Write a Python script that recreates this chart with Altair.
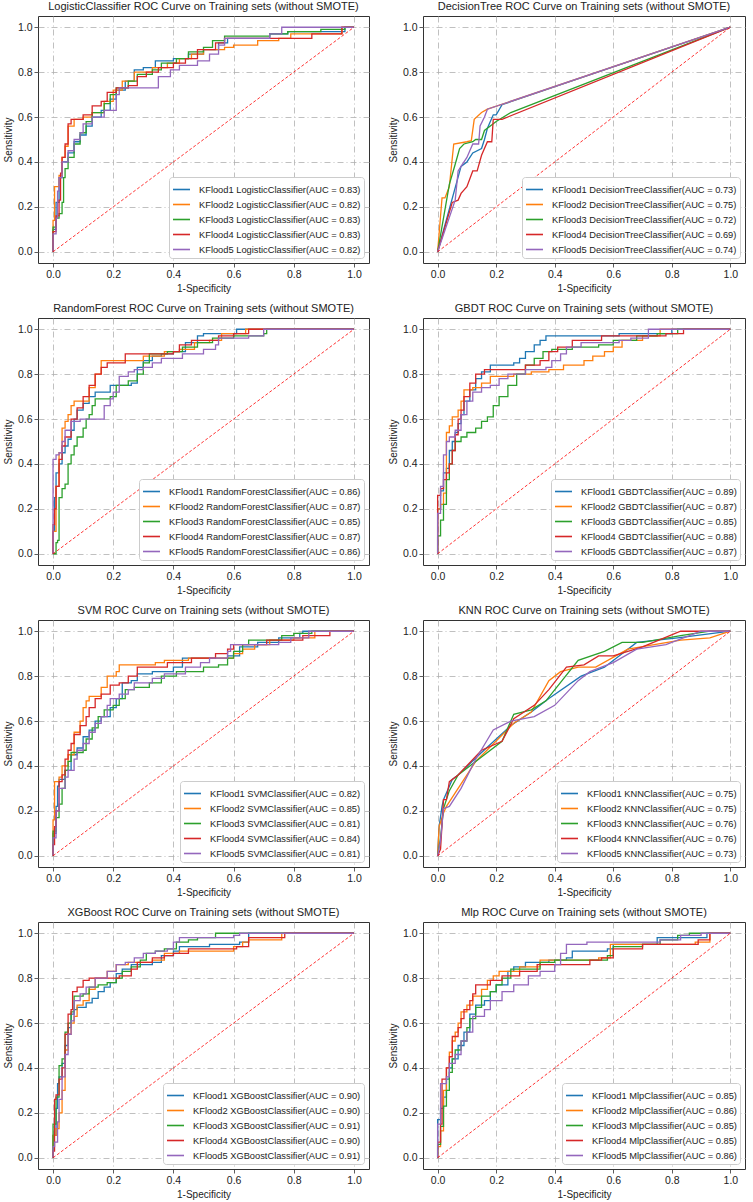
import altair as alt
import pandas as pd

FONT = "Liberation Sans"
COLORS = ["#1f77b4", "#ff7f0e", "#2ca02c", "#d62728", "#9467bd"]
TICKS = [0.0, 0.2, 0.4, 0.6, 0.8, 1.0]

# ---- Logistic ----
LR_AUC = [0.83, 0.82, 0.83, 0.83, 0.82]
LR_CURVES = [
    [(0,0),(0,0.10),(0.01,0.22),(0.02,0.33),(0.03,0.40),(0.05,0.44),(0.07,0.49),(0.09,0.52),(0.11,0.56),(0.13,0.60),(0.16,0.63),(0.19,0.68),(0.21,0.72),(0.24,0.76),(0.27,0.81),(0.30,0.82),(0.34,0.85),(0.40,0.86),(0.45,0.88),(0.50,0.90),(0.55,0.93),(0.58,0.95),(0.72,0.97),(0.78,0.98),(0.97,1.0),(1,1)],
    [(0,0),(0,0.14),(0.005,0.29),(0.02,0.34),(0.03,0.42),(0.04,0.47),(0.05,0.56),(0.07,0.59),(0.10,0.60),(0.13,0.62),(0.17,0.67),(0.20,0.72),(0.23,0.76),(0.27,0.80),(0.33,0.82),(0.38,0.84),(0.42,0.86),(0.46,0.88),(0.50,0.90),(0.57,0.91),(0.60,0.92),(0.68,0.94),(0.75,0.95),(0.79,0.97),(0.96,1.0),(1,1)],
    [(0,0),(0,0.11),(0.01,0.15),(0.02,0.17),(0.03,0.22),(0.035,0.33),(0.04,0.37),(0.05,0.42),(0.07,0.48),(0.09,0.53),(0.11,0.58),(0.13,0.62),(0.17,0.66),(0.19,0.70),(0.21,0.73),(0.25,0.76),(0.28,0.79),(0.33,0.81),(0.36,0.84),(0.41,0.86),(0.45,0.89),(0.50,0.91),(0.53,0.94),(0.57,0.96),(0.72,0.97),(0.78,0.98),(0.89,0.99),(0.97,1.0),(1,1)],
    [(0,0),(0,0.09),(0.01,0.16),(0.02,0.23),(0.025,0.35),(0.03,0.42),(0.04,0.48),(0.05,0.57),(0.06,0.59),(0.10,0.61),(0.13,0.65),(0.16,0.67),(0.18,0.71),(0.21,0.73),(0.25,0.74),(0.28,0.78),(0.31,0.80),(0.35,0.82),(0.40,0.84),(0.44,0.86),(0.48,0.90),(0.54,0.93),(0.57,0.95),(0.86,0.97),(0.96,1.0),(1,1)],
    [(0,0),(0,0.08),(0.01,0.15),(0.015,0.27),(0.02,0.33),(0.03,0.40),(0.05,0.45),(0.07,0.50),(0.09,0.53),(0.10,0.57),(0.13,0.60),(0.17,0.63),(0.21,0.70),(0.22,0.73),(0.35,0.78),(0.39,0.81),(0.42,0.83),(0.48,0.85),(0.52,0.88),(0.55,0.92),(0.57,0.95),(0.72,0.97),(0.76,1.0),(1,1)],
]

# ---- Decision tree ----
DT_AUC = [0.73, 0.75, 0.72, 0.69, 0.74]
DT_CURVES = [
    [(0,0),(0.08,0.38),(0.10,0.40),(0.12,0.44),(0.15,0.46),(0.16,0.50),(0.17,0.55),(0.19,0.61),(0.20,0.61),(0.22,0.655),(1,1)],
    [(0,0),(0.015,0.24),(0.025,0.24),(0.04,0.29),(0.055,0.48),(0.10,0.49),(0.115,0.495),(0.125,0.59),(0.15,0.62),(0.17,0.635),(1,1)],
    [(0,0),(0.04,0.30),(0.06,0.39),(0.075,0.46),(0.09,0.48),(0.12,0.49),(0.13,0.50),(0.15,0.50),(0.16,0.54),(0.20,0.58),(0.25,0.62),(1,1)],
    [(0,0),(0.05,0.22),(0.07,0.23),(0.08,0.26),(0.10,0.29),(0.12,0.36),(0.135,0.36),(0.15,0.43),(0.17,0.49),(0.185,0.49),(0.19,0.59),(0.22,0.59),(1,1)],
    [(0,0),(0.06,0.23),(0.07,0.36),(0.08,0.38),(0.10,0.42),(0.12,0.48),(0.14,0.48),(0.145,0.56),(0.16,0.60),(0.17,0.635),(1,1)],
]

# ---- Random forest ----
RF_AUC = [0.86, 0.87, 0.85, 0.87, 0.86]
RF_CURVES = [
    [(0,0),(0,0.10),(0.005,0.25),(0.01,0.36),(0.02,0.40),(0.03,0.45),(0.04,0.48),(0.05,0.51),(0.06,0.55),(0.07,0.60),(0.08,0.64),(0.10,0.67),(0.12,0.70),(0.14,0.72),(0.19,0.75),(0.26,0.76),(0.28,0.83),(0.30,0.86),(0.33,0.88),(0.36,0.89),(0.40,0.90),(0.44,0.94),(0.48,0.97),(0.50,0.98),(0.61,1.0),(1,1)],
    [(0,0),(0,0.10),(0.01,0.30),(0.02,0.45),(0.03,0.56),(0.04,0.59),(0.05,0.62),(0.06,0.66),(0.07,0.68),(0.12,0.74),(0.14,0.80),(0.16,0.86),(0.30,0.88),(0.37,0.90),(0.42,0.91),(0.47,0.94),(0.52,0.95),(0.56,0.98),(0.64,1.0),(1,1)],
    [(0,0),(0.01,0.05),(0.015,0.06),(0.02,0.25),(0.03,0.29),(0.04,0.31),(0.05,0.40),(0.06,0.44),(0.07,0.48),(0.08,0.52),(0.10,0.56),(0.11,0.60),(0.12,0.62),(0.13,0.66),(0.14,0.69),(0.19,0.70),(0.21,0.75),(0.25,0.77),(0.28,0.80),(0.30,0.85),(0.32,0.89),(0.38,0.90),(0.43,0.92),(0.48,0.94),(0.53,0.96),(0.60,0.97),(0.70,0.98),(0.71,1.0),(1,1)],
    [(0,0),(0,0.13),(0.005,0.20),(0.01,0.30),(0.02,0.42),(0.03,0.48),(0.04,0.52),(0.06,0.60),(0.08,0.65),(0.10,0.70),(0.12,0.75),(0.14,0.80),(0.16,0.83),(0.18,0.85),(0.24,0.89),(0.40,0.90),(0.42,0.93),(0.46,0.95),(0.55,0.97),(0.60,0.98),(0.65,1.0),(1,1)],
    [(0,0),(0,0.42),(0.01,0.44),(0.02,0.45),(0.03,0.50),(0.04,0.55),(0.06,0.59),(0.09,0.60),(0.17,0.66),(0.19,0.69),(0.20,0.72),(0.22,0.79),(0.25,0.81),(0.27,0.82),(0.30,0.83),(0.33,0.85),(0.36,0.87),(0.43,0.89),(0.50,0.91),(0.54,0.93),(0.55,0.96),(0.65,0.97),(0.70,1.0),(1,1)],
]

# ---- GBDT ----
GB_AUC = [0.89, 0.87, 0.85, 0.88, 0.87]
GB_CURVES = [
    [(0,0),(0,0.20),(0.01,0.28),(0.02,0.36),(0.03,0.38),(0.04,0.46),(0.05,0.50),(0.06,0.54),(0.07,0.58),(0.08,0.62),(0.09,0.68),(0.11,0.73),(0.13,0.78),(0.15,0.81),(0.18,0.84),(0.26,0.85),(0.28,0.87),(0.30,0.90),(0.33,0.93),(0.35,0.95),(0.37,0.97),(0.62,0.98),(0.80,1.0),(1,1)],
    [(0,0),(0,0.20),(0.01,0.22),(0.02,0.27),(0.03,0.54),(0.04,0.57),(0.05,0.61),(0.07,0.64),(0.08,0.68),(0.09,0.73),(0.12,0.74),(0.15,0.76),(0.18,0.79),(0.26,0.80),(0.32,0.81),(0.38,0.82),(0.43,0.84),(0.50,0.86),(0.53,0.88),(0.57,0.90),(0.60,0.92),(0.63,0.95),(0.70,0.97),(0.76,1.0),(1,1)],
    [(0,0),(0,0.08),(0.01,0.15),(0.02,0.22),(0.03,0.33),(0.04,0.40),(0.05,0.46),(0.06,0.50),(0.08,0.52),(0.10,0.54),(0.13,0.56),(0.15,0.59),(0.17,0.61),(0.19,0.66),(0.21,0.70),(0.24,0.75),(0.27,0.80),(0.30,0.84),(0.33,0.87),(0.36,0.90),(0.39,0.91),(0.46,0.92),(0.55,0.93),(0.60,0.95),(0.68,0.97),(0.75,0.98),(0.82,1.0),(1,1)],
    [(0,0),(0,0.26),(0.01,0.29),(0.02,0.33),(0.03,0.36),(0.04,0.40),(0.05,0.46),(0.06,0.53),(0.07,0.60),(0.08,0.64),(0.09,0.70),(0.11,0.76),(0.13,0.80),(0.16,0.82),(0.30,0.84),(0.35,0.86),(0.38,0.90),(0.41,0.92),(0.46,0.95),(0.56,0.97),(0.78,0.98),(0.84,1.0),(1,1)],
    [(0,0),(0,0.18),(0.01,0.30),(0.02,0.44),(0.03,0.50),(0.04,0.52),(0.06,0.55),(0.08,0.62),(0.10,0.68),(0.12,0.72),(0.15,0.74),(0.18,0.75),(0.21,0.78),(0.24,0.80),(0.30,0.82),(0.37,0.83),(0.39,0.86),(0.42,0.89),(0.44,0.92),(0.49,0.94),(0.62,0.95),(0.66,0.96),(0.72,1.0),(1,1)],
]

# ---- SVM ----
SVM_AUC = [0.82, 0.85, 0.81, 0.84, 0.81]
SVM_CURVES = [
    [(0,0),(0,0.10),(0.01,0.22),(0.015,0.31),(0.02,0.34),(0.04,0.38),(0.06,0.45),(0.08,0.48),(0.10,0.53),(0.12,0.56),(0.14,0.60),(0.16,0.62),(0.19,0.66),(0.21,0.70),(0.23,0.77),(0.26,0.78),(0.28,0.81),(0.33,0.82),(0.40,0.84),(0.43,0.88),(0.58,0.89),(0.62,0.93),(0.68,0.95),(0.75,0.97),(0.82,0.99),(0.83,1.0),(1,1)],
    [(0,0),(0,0.16),(0.005,0.33),(0.02,0.35),(0.03,0.40),(0.05,0.45),(0.07,0.55),(0.09,0.60),(0.10,0.66),(0.11,0.69),(0.12,0.71),(0.16,0.75),(0.18,0.80),(0.21,0.82),(0.22,0.85),(0.34,0.86),(0.37,0.87),(0.45,0.88),(0.60,0.90),(0.63,0.92),(0.67,0.94),(0.72,0.96),(0.80,0.97),(0.87,1.0),(1,1)],
    [(0,0),(0,0.11),(0.01,0.17),(0.02,0.23),(0.03,0.30),(0.04,0.38),(0.05,0.42),(0.06,0.46),(0.10,0.47),(0.11,0.52),(0.13,0.57),(0.15,0.62),(0.17,0.65),(0.20,0.67),(0.22,0.70),(0.24,0.74),(0.27,0.75),(0.32,0.77),(0.36,0.80),(0.41,0.82),(0.50,0.84),(0.55,0.85),(0.58,0.88),(0.60,0.91),(0.63,0.94),(0.65,0.96),(0.76,0.98),(0.80,0.99),(0.86,1.0),(1,1)],
    [(0,0),(0,0.05),(0.005,0.13),(0.01,0.20),(0.02,0.33),(0.03,0.36),(0.04,0.43),(0.05,0.47),(0.06,0.50),(0.07,0.54),(0.09,0.58),(0.11,0.62),(0.12,0.66),(0.14,0.70),(0.16,0.72),(0.19,0.76),(0.22,0.77),(0.25,0.80),(0.28,0.84),(0.38,0.86),(0.46,0.88),(0.54,0.90),(0.58,0.92),(0.60,0.94),(0.71,0.96),(0.83,0.98),(0.92,1.0),(1,1)],
    [(0,0),(0,0.08),(0.01,0.20),(0.02,0.30),(0.04,0.35),(0.05,0.38),(0.07,0.43),(0.08,0.47),(0.10,0.50),(0.12,0.55),(0.14,0.59),(0.16,0.62),(0.18,0.67),(0.19,0.70),(0.22,0.72),(0.25,0.74),(0.27,0.77),(0.33,0.79),(0.37,0.81),(0.44,0.84),(0.49,0.86),(0.52,0.88),(0.58,0.91),(0.59,0.94),(0.75,0.95),(0.79,0.97),(0.85,1.0),(1,1)],
]

# ---- KNN ----
KNN_AUC = [0.75, 0.75, 0.76, 0.76, 0.73]
KNN_CURVES = [
    [(0,0),(0.005,0.13),(0.015,0.22),(0.02,0.25),(0.03,0.28),(0.05,0.34),(0.07,0.36),(0.15,0.46),(0.25,0.58),(0.32,0.64),(0.38,0.70),(0.49,0.80),(0.57,0.84),(0.68,0.95),(0.82,0.97),(1,1)],
    [(0,0),(0.005,0.13),(0.02,0.19),(0.03,0.22),(0.06,0.28),(0.13,0.42),(0.26,0.59),(0.32,0.64),(0.38,0.78),(0.42,0.82),(0.48,0.84),(0.54,0.84),(0.65,0.92),(0.83,0.96),(0.93,0.97),(1,1)],
    [(0,0),(0.01,0.08),(0.02,0.21),(0.04,0.29),(0.07,0.36),(0.15,0.44),(0.22,0.51),(0.26,0.63),(0.32,0.65),(0.37,0.69),(0.48,0.87),(0.57,0.91),(0.63,0.95),(0.70,0.95),(0.83,0.98),(0.93,1.0),(1,1)],
    [(0,0),(0.01,0.03),(0.02,0.25),(0.03,0.25),(0.04,0.33),(0.07,0.36),(0.15,0.47),(0.22,0.51),(0.26,0.61),(0.33,0.67),(0.38,0.74),(0.44,0.84),(0.50,0.85),(0.55,0.89),(0.60,0.89),(0.70,0.93),(0.83,1.0),(1,1)],
    [(0,0),(0.01,0.07),(0.02,0.21),(0.04,0.22),(0.08,0.30),(0.13,0.43),(0.19,0.56),(0.25,0.60),(0.33,0.62),(0.40,0.67),(0.48,0.78),(0.52,0.82),(0.60,0.86),(0.68,0.92),(0.78,0.94),(0.90,1.0),(1,1)],
]

# ---- XGBoost ----
XGB_AUC = [0.90, 0.90, 0.91, 0.90, 0.91]
XGB_CURVES = [
    [(0,0),(0,0.10),(0.01,0.22),(0.015,0.33),(0.02,0.36),(0.03,0.42),(0.04,0.50),(0.05,0.58),(0.06,0.64),(0.07,0.66),(0.08,0.67),(0.11,0.69),(0.13,0.71),(0.15,0.74),(0.17,0.76),(0.19,0.78),(0.21,0.82),(0.23,0.84),(0.26,0.86),(0.33,0.87),(0.36,0.90),(0.40,0.92),(0.42,0.94),(0.52,0.95),(0.62,0.96),(0.65,1.0),(1,1)],
    [(0,0),(0,0.10),(0.01,0.13),(0.02,0.20),(0.03,0.30),(0.04,0.48),(0.05,0.55),(0.06,0.60),(0.07,0.63),(0.08,0.68),(0.10,0.70),(0.12,0.75),(0.14,0.80),(0.18,0.83),(0.21,0.86),(0.25,0.87),(0.33,0.88),(0.37,0.91),(0.42,0.92),(0.60,0.94),(0.63,0.96),(0.65,0.97),(0.76,1.0),(1,1)],
    [(0,0),(0,0.15),(0.01,0.27),(0.02,0.41),(0.03,0.44),(0.04,0.56),(0.05,0.60),(0.06,0.65),(0.07,0.72),(0.10,0.73),(0.12,0.76),(0.15,0.77),(0.18,0.78),(0.21,0.80),(0.23,0.83),(0.26,0.85),(0.29,0.88),(0.31,0.91),(0.34,0.92),(0.37,0.93),(0.41,0.96),(0.45,0.97),(0.48,0.98),(0.54,1.0),(1,1)],
    [(0,0),(0,0.03),(0.005,0.26),(0.01,0.28),(0.02,0.35),(0.03,0.40),(0.04,0.55),(0.05,0.64),(0.06,0.66),(0.065,0.74),(0.08,0.76),(0.10,0.79),(0.12,0.80),(0.22,0.81),(0.26,0.84),(0.28,0.87),(0.33,0.89),(0.37,0.90),(0.40,0.91),(0.45,0.93),(0.61,0.94),(0.65,0.98),(0.77,1.0),(1,1)],
    [(0,0),(0,0.05),(0.005,0.07),(0.015,0.16),(0.02,0.26),(0.03,0.36),(0.04,0.46),(0.05,0.55),(0.06,0.61),(0.07,0.70),(0.09,0.73),(0.11,0.76),(0.14,0.80),(0.18,0.83),(0.21,0.86),(0.24,0.87),(0.27,0.89),(0.30,0.91),(0.34,0.92),(0.38,0.93),(0.40,0.96),(0.42,0.98),(0.60,0.99),(0.62,1.0),(1,1)],
]

# ---- MLP ----
MLP_AUC = [0.85, 0.86, 0.85, 0.85, 0.86]
MLP_CURVES = [
    [(0,0),(0,0.17),(0.01,0.22),(0.02,0.27),(0.03,0.35),(0.04,0.40),(0.05,0.44),(0.07,0.50),(0.09,0.56),(0.11,0.64),(0.13,0.68),(0.16,0.70),(0.18,0.74),(0.20,0.77),(0.24,0.83),(0.26,0.85),(0.30,0.87),(0.38,0.88),(0.44,0.89),(0.46,0.92),(0.58,0.93),(0.60,0.95),(0.75,0.98),(0.92,1.0),(1,1)],
    [(0,0),(0,0.05),(0.01,0.12),(0.02,0.30),(0.03,0.40),(0.04,0.47),(0.05,0.52),(0.06,0.56),(0.07,0.60),(0.08,0.65),(0.10,0.68),(0.12,0.72),(0.15,0.75),(0.17,0.79),(0.19,0.81),(0.21,0.83),(0.28,0.85),(0.35,0.88),(0.55,0.89),(0.59,0.95),(0.88,0.96),(0.93,1.0),(1,1)],
    [(0,0),(0,0.06),(0.01,0.14),(0.02,0.23),(0.03,0.30),(0.04,0.38),(0.05,0.44),(0.06,0.48),(0.08,0.52),(0.10,0.58),(0.11,0.62),(0.13,0.67),(0.15,0.72),(0.18,0.74),(0.20,0.77),(0.22,0.80),(0.25,0.84),(0.35,0.87),(0.40,0.88),(0.58,0.90),(0.60,0.94),(0.70,0.95),(0.76,0.97),(0.82,0.99),(0.86,1.0),(1,1)],
    [(0,0),(0,0.07),(0.01,0.15),(0.015,0.35),(0.03,0.40),(0.04,0.45),(0.05,0.54),(0.07,0.58),(0.08,0.62),(0.09,0.66),(0.11,0.70),(0.12,0.73),(0.13,0.77),(0.18,0.79),(0.22,0.81),(0.28,0.83),(0.34,0.86),(0.52,0.88),(0.56,0.89),(0.60,0.93),(0.70,0.95),(0.89,0.97),(0.93,1.0),(1,1)],
    [(0,0),(0,0.15),(0.01,0.33),(0.03,0.36),(0.04,0.42),(0.06,0.46),(0.08,0.52),(0.10,0.56),(0.12,0.63),(0.16,0.66),(0.18,0.70),(0.22,0.74),(0.26,0.77),(0.31,0.81),(0.35,0.83),(0.40,0.86),(0.42,0.91),(0.44,0.95),(0.51,0.96),(0.76,0.97),(0.83,0.99),(0.90,1.0),(1,1)],
]

PANELS = [
    ("LogisticClassifier", "LogisticClassifier", LR_AUC, LR_CURVES, "step-after"),
    ("DecisionTree", "DecisionTreeClassifier", DT_AUC, DT_CURVES, "linear"),
    ("RandomForest", "RandomForestClassifier", RF_AUC, RF_CURVES, "step-after"),
    ("GBDT", "GBDTClassifier", GB_AUC, GB_CURVES, "step-after"),
    ("SVM", "SVMClassifier", SVM_AUC, SVM_CURVES, "step-after"),
    ("KNN", "KNNClassifier", KNN_AUC, KNN_CURVES, "linear"),
    ("XGBoost", "XGBoostClassifier", XGB_AUC, XGB_CURVES, "step-after"),
    ("Mlp", "MlpClassifier", MLP_AUC, MLP_CURVES, "step-after"),
]

LEFT_W = 331
RIGHT_W = 322
PANEL_H = 247


def make_panel(name, clf, aucs, curves, interp, width):
    labels = [f"KFlood{k + 1} {clf}(AUC = {a:.2f})" for k, a in enumerate(aucs)]
    rows = []
    for k, curve in enumerate(curves):
        for i, (fx, ty) in enumerate(curve):
            rows.append({"fpr": fx, "tpr": ty, "label": labels[k], "idx": i})
    df = pd.DataFrame(rows)
    sc = alt.Scale(domain=[-0.05, 1.05], nice=False, zero=False)
    xenc = alt.X("fpr:Q", scale=sc, axis=alt.Axis(title="1-Specificity", values=TICKS, format=".1f"))
    yenc = alt.Y("tpr:Q", scale=sc, axis=alt.Axis(title="Sensitivity", values=TICKS, format=".1f"))
    lines = alt.Chart(df).mark_line(interpolate=interp, strokeWidth=1.3).encode(
        x=xenc,
        y=yenc,
        color=alt.Color(
            "label:N",
            scale=alt.Scale(domain=labels, range=COLORS),
            legend=alt.Legend(
                orient="bottom-right", title=None, offset=5,
                fillColor="white", strokeColor="#cccccc", padding=3, cornerRadius=3,
                symbolType="stroke", symbolSize=289, symbolStrokeWidth=1.6,
                labelFontSize=9.3, labelFont=FONT, labelColor="#222222",
                rowPadding=-4, labelOffset=8, labelLimit=400,
            ),
        ),
        order=alt.Order("idx:Q"),
    )
    diag_df = pd.DataFrame({"fpr": [0.0, 1.0], "tpr": [0.0, 1.0]})
    diag = alt.Chart(diag_df).mark_line(
        color="red", strokeDash=[3, 2], strokeWidth=1, opacity=0.8
    ).encode(x=xenc, y=yenc)
    return alt.layer(lines, diag).properties(
        width=width, height=PANEL_H,
        title=alt.TitleParams(
            f"{name} ROC Curve on Training sets (without SMOTE)",
            fontSize=11, fontWeight="normal", font=FONT, color="#222222",
            offset=4, anchor="middle",
        ),
    )


rows = []
for r in range(4):
    left = make_panel(*PANELS[2 * r], LEFT_W)
    right = make_panel(*PANELS[2 * r + 1], RIGHT_W)
    rows.append(alt.hconcat(left, right, spacing=17).resolve_scale(color="independent"))

chart = alt.vconcat(*rows, spacing=8).resolve_scale(color="independent").properties(
    padding={"left": 2, "top": 0, "right": 0, "bottom": 0},
    background="white",
).configure_view(
    stroke="#333333", strokeWidth=1
).configure_axis(
    domain=False, tickColor="#333333", tickSize=4, tickWidth=0.8,
    labelFont=FONT, titleFont=FONT, labelFontSize=10.5, titleFontSize=10,
    labelColor="#222222", titleColor="#222222", titleFontWeight="normal",
    grid=True, gridColor="#b0b0b0", gridDash=[6, 3, 1, 3], gridWidth=0.8,
    labelPadding=2, titlePadding=4,
)

chart.save("out.html", embed_options={"renderer": "svg", "actions": False})
